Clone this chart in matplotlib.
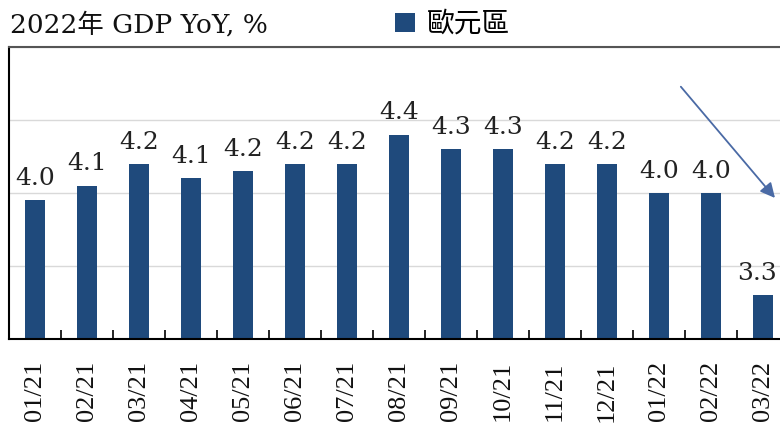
import matplotlib
matplotlib.use("Agg")
import matplotlib.pyplot as plt

# 資料
months = ["01/21", "02/21", "03/21", "04/21", "05/21", "06/21", "07/21", "08/21",
          "09/21", "10/21", "11/21", "12/21", "01/22", "02/22", "03/22"]
gdp_yoy = [3.95, 4.05, 4.20, 4.10, 4.15, 4.20, 4.20, 4.40,
           4.30, 4.30, 4.20, 4.20, 4.00, 4.00, 3.30]
value_labels = ["4.0", "4.1", "4.2", "4.1", "4.2", "4.2", "4.2", "4.4",
                "4.3", "4.3", "4.2", "4.2", "4.0", "4.0", "3.3"]
series_name = "歐元區"
title = "2022年 GDP YoY, %"

bar_color = "#1f4a7c"
serif = ["DejaVu Serif", "Noto Sans CJK TC"]

fig = plt.figure(figsize=(7.8, 4.25), dpi=100)
ax = fig.add_axes([9 / 780, 86 / 425, 780 / 780, 292 / 425])

x = list(range(len(months)))
bars = ax.bar(x, gdp_yoy, width=0.38, color=bar_color, label=series_name, zorder=2)

for i, (v, s) in enumerate(zip(gdp_yoy, value_labels)):
    dx = -4 if i == len(months) - 1 else 0  # 最後一個標籤稍微左移, 避免被裁切
    ax.annotate(s, (i, v), xytext=(dx, 11), textcoords="offset points",
                ha="center", va="baseline", fontsize=18, family=serif, color="#222222")

# 箭頭
ax.annotate("", xy=(14.23, 3.966), xytext=(12.42, 4.728),
            arrowprops=dict(arrowstyle="-|>", color="#4a6aa5", lw=1.3,
                            mutation_scale=22, shrinkA=0, shrinkB=0))

ax.set_xlim(-0.5, 14.5)
ax.set_ylim(3.0, 5.0)
ax.set_yticks([3.0, 3.5, 4.0, 4.5, 5.0])
ax.set_yticklabels([])
ax.tick_params(axis="y", length=0)
ax.yaxis.grid(True, color="#d9d9d9", lw=1.0, zorder=0)
ax.set_axisbelow(True)

ax.set_xticks(x)
ax.set_xticklabels(months, rotation=90, fontsize=19, family="Liberation Serif", color="#111111")
ax.set_xticks([i + 0.5 for i in range(len(months) - 1)], minor=True)
ax.tick_params(axis="x", which="major", length=0, pad=16)
ax.tick_params(axis="x", which="minor", direction="in", length=6.5, width=1.2, color="black")

for side in ["left", "bottom"]:
    ax.spines[side].set_color("black")
    ax.spines[side].set_linewidth(1.5)
ax.spines["top"].set_color("#555555")
ax.spines["top"].set_linewidth(1.5)
ax.spines["right"].set_visible(False)

fig.text(10 / 780, 1 - 33 / 425, title, fontsize=19, family=serif,
         va="baseline", ha="left", color="#111111")

fig.legend(handles=[bars], labels=[series_name], loc="center left",
           bbox_to_anchor=(395 / 780, 1 - 24 / 425), frameon=False,
           borderaxespad=0, borderpad=0, handlelength=0.72, handleheight=0.65,
           handletextpad=0.43, prop={"family": ["Noto Sans CJK TC"], "size": 20})

fig.savefig("out.png", dpi=100)
